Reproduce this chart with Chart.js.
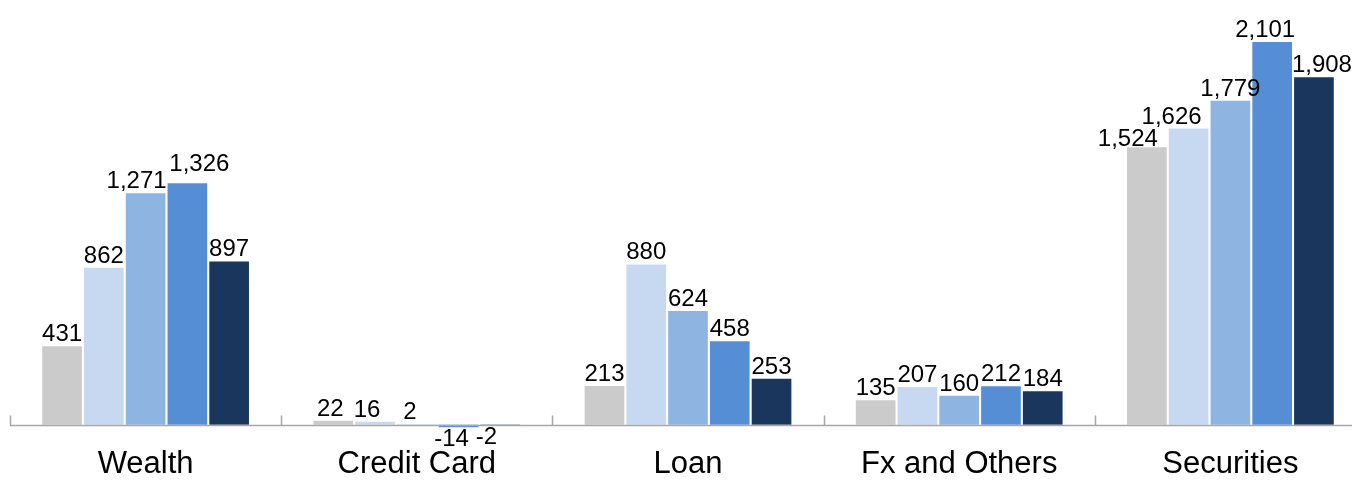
<!DOCTYPE html>
<html>
<head>
<meta charset="utf-8">
<script src="https://cdn.jsdelivr.net/npm/chart.js@4"></script>
<style>
  html, body { margin: 0; padding: 0; background: #fff; overflow: hidden; }
  #wrap { width: 1366px; height: 480px; position: relative; }
</style>
</head>
<body>
<div id="wrap"><canvas id="myChart"></canvas></div>
<script>
// categories and series (5 periods per category)
const categories = ["Wealth", "Credit Card", "Loan", "Fx and Others", "Securities"];
const series1 = [431, 22, 213, 135, 1524];
const series2 = [862, 16, 880, 207, 1626];
const series3 = [1271, 2, 624, 160, 1779];
const series4 = [1326, -14, 458, 212, 2101];
const series5 = [897, -2, 253, 184, 1908];
const seriesColors = ["#CBCBCB", "#C6D9F1", "#8EB4E2", "#558ED5", "#1A365D"];

const allSeries = [series1, series2, series3, series4, series5];

// small nudges so crowded value labels don't collide (px, per series/category)
const labelShiftX = [
  [0, -3, 0, 0, -19],
  [0, -8, 0, 0, -17],
  [-9, -7, 0, 0, 0],
  [12, -7, 0, 0, -7],
  [0, -14, 0, 0, 8],
];
const labelShiftY = [
  [0, 0, 0, 0, 4],
  [0, 0, 0, 0, 0],
  [0, 0, 0, 0, 0],
  [-7, 0, 0, 0, 0],
  [0, 0, 0, 0, 0],
];

// axis line at zero + small tick marks between categories
const axisPlugin = {
  id: "zeroAxis",
  afterDatasetsDraw(chart) {
    const ctx = chart.ctx;
    const y0 = Math.round(chart.scales.y.getPixelForValue(0)) + 0.5;
    const step = (chart.chartArea.right - chart.chartArea.left) / categories.length;
    ctx.save();
    ctx.strokeStyle = "#A6A6A6";
    ctx.lineWidth = 1.5;
    ctx.beginPath();
    ctx.moveTo(chart.chartArea.left, y0);
    ctx.lineTo(chart.chartArea.right, y0);
    for (let i = 0; i <= categories.length; i++) {
      const x = Math.round(chart.chartArea.left + i * step) + 0.5;
      ctx.moveTo(x, y0);
      ctx.lineTo(x, y0 - 10);
    }
    ctx.stroke();
    ctx.restore();
  },
};

// value labels on top of (or under) each bar
const labelPlugin = {
  id: "valueLabels",
  afterDatasetsDraw(chart) {
    const ctx = chart.ctx;
    ctx.save();
    ctx.font = "24px 'Liberation Sans', Arial, sans-serif";
    ctx.fillStyle = "#000";
    ctx.textAlign = "center";
    chart.data.datasets.forEach((ds, di) => {
      const meta = chart.getDatasetMeta(di);
      meta.data.forEach((bar, i) => {
        const v = ds.data[i];
        const txt = v.toLocaleString("en-US");
        const x = bar.x + labelShiftX[di][i];
        const dy = labelShiftY[di][i];
        if (v >= 0) {
          ctx.textBaseline = "alphabetic";
          ctx.fillText(txt, x, bar.y - 5 + dy);
        } else {
          ctx.textBaseline = "top";
          ctx.fillText(txt, x, bar.y + dy);
        }
      });
    });
    ctx.restore();
  },
};

const ctx = document.getElementById("myChart").getContext("2d");
const myChart = new Chart(ctx, {
  type: "bar",
  data: {
    labels: categories,
    datasets: allSeries.map((d, i) => ({
      data: d,
      backgroundColor: seriesColors[i],
      borderWidth: 0,
      categoryPercentage: 0.77,
      barPercentage: 0.95,
    })),
  },
  options: {
    responsive: true,
    maintainAspectRatio: false,
    animation: false,
    layout: { padding: { left: 10, right: 0, top: 0, bottom: 0 } },
    plugins: {
      legend: { display: false },
      tooltip: { enabled: false },
    },
    scales: {
      x: {
        grid: { display: false },
        border: { display: false },
        ticks: {
          color: "#000",
          padding: -3,
          maxRotation: 0,
          font: { family: "'Liberation Sans', Arial, sans-serif", size: 31 },
        },
      },
      y: {
        display: false,
        min: -88,
        max: 2332,
      },
    },
  },
  plugins: [axisPlugin, labelPlugin],
});
</script>
</body>
</html>
